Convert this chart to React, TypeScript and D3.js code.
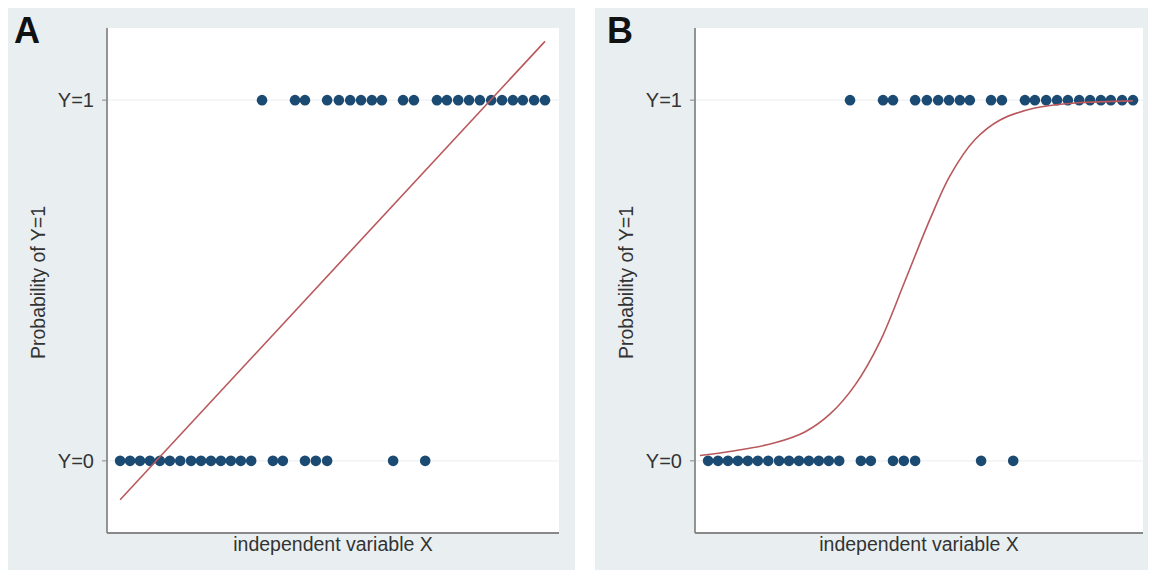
import React from "react";
import * as d3 from "d3";

// ---- data (X on a 0..100 scale, outcome 0/1) ----
const yZeroX = [2.9, 5.1, 7.3, 9.5, 11.7, 13.9, 16.2, 18.6, 20.8, 23.0, 25.2, 27.4, 29.6, 31.9, 36.7, 38.9, 43.8, 46.2, 48.7, 63.3, 70.4];
const yOneX = [34.3, 41.6, 43.8, 48.7, 51.3, 53.8, 56.2, 58.6, 60.8, 65.5, 67.9, 73.0, 75.2, 77.7, 80.1, 82.5, 85.0, 87.4, 89.8, 92.0, 94.5, 96.9];
// Linear probability fit (panel A), endpoints
const linearX = [2.9, 96.9];
const linearY = [-0.108, 1.163];
// Logistic fit (panel B)
const logisticX = [1.1, 8.8, 17.7, 24.3, 29.9, 35.4, 40.9, 46.5, 52.0, 56.4, 61.9, 67.5, 75.2, 84.1, 96.9];
const logisticY = [0.015, 0.028, 0.05, 0.08, 0.13, 0.21, 0.33, 0.5, 0.67, 0.79, 0.89, 0.945, 0.978, 0.992, 0.998];
const yTickValues = [0, 1];
const yTickLabels = ["Y=0", "Y=1"];
const panelLetters = ["A", "B"];

const FONT = "'Liberation Sans', Arial, Helvetica, sans-serif";
const BG = "#e9eff1";
const DOT = "#1b4a72";
const LINE = "#b9585c";

type PanelProps = {
  px: number;
  pw: number;
  plotLeft: number;
  plotWidth: number;
  letter: string;
  letterX: number;
  kind: "linear" | "logistic";
};

function Panel({ px, pw, plotLeft, plotWidth, letter, letterX, kind }: PanelProps) {
  const top = 28;
  const bottom = 533;
  const x = d3.scaleLinear().domain([0, 100]).range([plotLeft, plotLeft + 452]);
  const y = d3.scaleLinear().domain([-0.2, 1.2]).range([bottom, top]);
  const plotRight = plotLeft + plotWidth;

  let path = "";
  if (kind === "linear") {
    const pts = linearX.map((v, i) => [v, linearY[i]] as [number, number]);
    path = d3.line<[number, number]>().x((d) => x(d[0])).y((d) => y(d[1]))(pts) || "";
  } else {
    const pts = logisticX.map((v, i) => [v, logisticY[i]] as [number, number]);
    path = d3.line<[number, number]>().x((d) => x(d[0])).y((d) => y(d[1])).curve(d3.curveCatmullRom.alpha(0.5))(pts) || "";
  }

  return (
    <g>
      <rect x={px} y={8} width={pw} height={562} fill={BG} />
      <rect x={plotLeft} y={top} width={plotWidth} height={bottom - top} fill="#ffffff" />
      {yTickValues.map((t, i) => (
        <g key={t}>
          <line x1={plotLeft} x2={plotRight} y1={y(t)} y2={y(t)} stroke="#eef1f2" strokeWidth={1.2} />
          <line x1={plotLeft - 5} x2={plotLeft} y1={y(t)} y2={y(t)} stroke="#888" strokeWidth={1} />
          <text x={plotLeft - 13} y={y(t)} dy="0.36em" textAnchor="end" fontFamily={FONT} fontSize={20} fill="#333">
            {yTickLabels[i]}
          </text>
        </g>
      ))}
      {yZeroX.map((v, i) => (
        <circle key={"z" + i} cx={x(v)} cy={y(0)} r={5.3} fill={DOT} />
      ))}
      {yOneX.map((v, i) => (
        <circle key={"o" + i} cx={x(v)} cy={y(1)} r={5.3} fill={DOT} />
      ))}
      <path d={path} fill="none" stroke={LINE} strokeWidth={1.6} />
      <line x1={plotLeft} x2={plotLeft} y1={top} y2={bottom} stroke="#888" strokeWidth={1.8} />
      <line x1={plotLeft} x2={plotRight} y1={bottom} y2={bottom} stroke="#888" strokeWidth={1.8} />
      <text
        x={(plotLeft + plotRight) / 2}
        y={551}
        textAnchor="middle"
        fontFamily={FONT}
        fontSize={19.5}
        fill="#333"
      >
        independent variable X
      </text>
      <text
        transform={`translate(${plotLeft - 62},${(top + bottom) / 2 + 2}) rotate(-90)`}
        textAnchor="middle"
        fontFamily={FONT}
        fontSize={19.5}
        fill="#333"
      >
        Probability of Y=1
      </text>
      <text x={letterX} y={43} fontFamily={FONT} fontWeight="bold" fontSize={36} fill="#111">
        {letter}
      </text>
    </g>
  );
}

export default function App() {
  return (
    <svg
      width={1149}
      height={571}
      style={{ position: "absolute", left: 0, top: 0, background: "#ffffff" }}
    >
      <Panel px={8} pw={567} plotLeft={107} plotWidth={452} letter={panelLetters[0]} letterX={14} kind="linear" />
      <Panel px={595} pw={553} plotLeft={695} plotWidth={448} letter={panelLetters[1]} letterX={607} kind="logistic" />
    </svg>
  );
}
